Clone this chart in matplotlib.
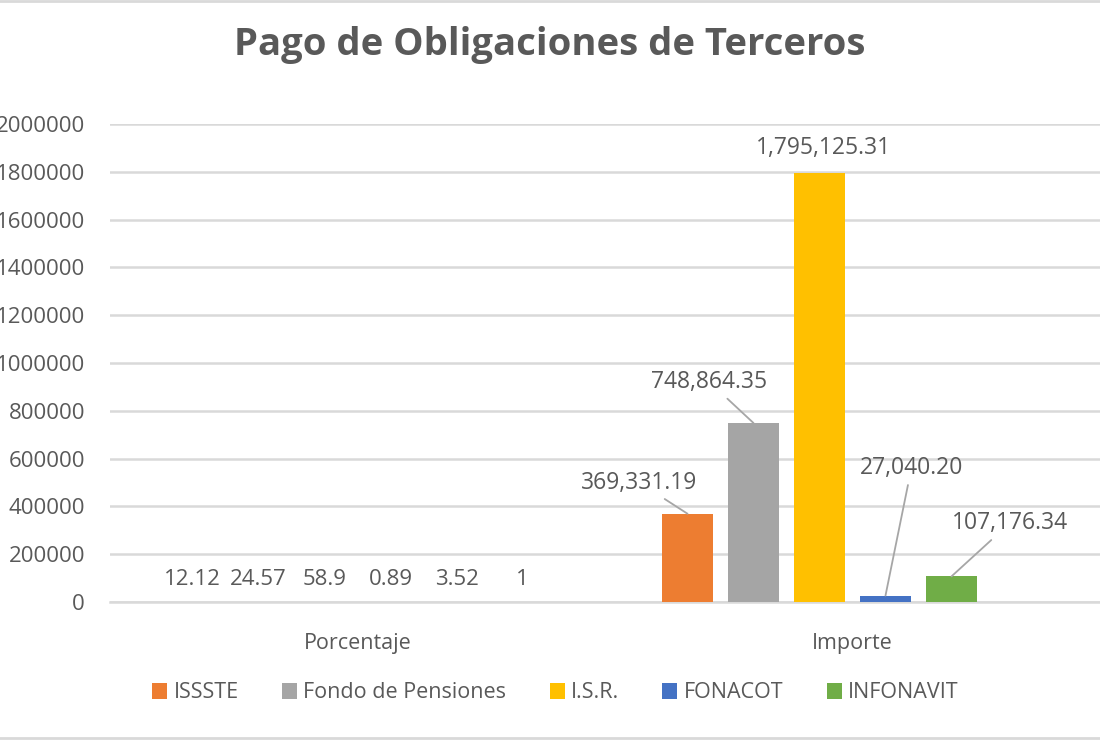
import matplotlib.pyplot as plt
import numpy as np

categorias = ['Porcentaje', 'Importe']
series = ['ISSSTE', 'Fondo de Pensiones', 'I.S.R.', 'FONACOT', 'INFONAVIT', 'Total']
colores = ['#ED7D31', '#A5A5A5', '#FFC000', '#4472C4', '#70AD47', '#264478']
porcentaje = [12.12, 24.57, 58.9, 0.89, 3.52, 1]
importe = [369331.19, 748864.35, 1795125.31, 27040.20, 107176.34, np.nan]
etiquetas_importe = ['369,331.19', '748,864.35', '1,795,125.31', '27,040.20', '107,176.34', '']
# desplazamiento de las etiquetas del importe (pixeles), con linea guia
desp_importe = [(-48, 31), (-44, 41), (4, 25), (26, 128), (58, 53), (0, 0)]
guia = [True, True, False, True, True, False]

plt.rcParams['font.family'] = ['Open Sans', 'DejaVu Sans']
gris = '#595959'

fig = plt.figure(figsize=(11, 7.4), dpi=100)
ax = fig.add_axes([0.1, 1 - 602 / 740, 0.9, (602 - 124) / 740])

x = np.arange(len(categorias))
ancho_slot = 0.8 / len(series)
for i, nombre in enumerate(series):
    pos = x - 0.4 + ancho_slot * (i + 0.5)
    vals = [porcentaje[i], importe[i]]
    ax.bar(pos, np.nan_to_num(vals), width=0.102, color=colores[i],
           label=nombre if i < 5 else '_nolegend_', zorder=3)
    # etiqueta de porcentaje
    ax.annotate(f'{porcentaje[i]:g}', (pos[0], porcentaje[i]), xytext=(0, 22),
                textcoords='offset pixels', ha='center', va='center',
                fontsize=16, color=gris)
    if etiquetas_importe[i]:
        dx, dy = desp_importe[i]
        ap = dict(arrowstyle='-', color='#A6A6A6', lw=1.3, shrinkA=2, shrinkB=0) if guia[i] else None
        ax.annotate(etiquetas_importe[i], (pos[1], importe[i]), xytext=(dx, dy),
                    textcoords='offset pixels', ha='center', va='center',
                    fontsize=16.5, color=gris, arrowprops=ap)

ax.set_xlim(-0.5, 1.5)
ax.set_ylim(0, 2000000)
ax.set_yticks(np.arange(0, 2000001, 200000))
ax.set_yticklabels([f'{v:d}' for v in range(0, 2000001, 200000)])
ax.set_xticks(x)
ax.set_xticklabels(categorias)
ax.tick_params(axis='both', length=0, labelcolor=gris)
ax.tick_params(axis='y', pad=18, labelsize=16)
ax.tick_params(axis='x', pad=22, labelsize=15.5)
ax.grid(axis='y', color='#D9D9D9', lw=1.8, zorder=0)
for s in ['top', 'right', 'left']:
    ax.spines[s].set_visible(False)
ax.spines['bottom'].set_color('#D9D9D9')
ax.spines['bottom'].set_linewidth(1.8)

fig.suptitle('Pago de Obligaciones de Terceros', x=0.5, y=1 - 45 / 740, va='center',
             fontsize=27.5, fontweight='bold', color=gris)

fig.legend(loc='center', bbox_to_anchor=(0.505, 1 - 693 / 740), ncol=5, frameon=False,
           fontsize=15.5, labelcolor=gris, handlelength=0.7, handleheight=0.7,
           handletextpad=0.3, columnspacing=2.0)

fig.add_artist(plt.Line2D([0, 1], [0.998, 0.998], color='#D9D9D9', lw=2))
fig.add_artist(plt.Line2D([0, 1], [0.003, 0.003], color='#D9D9D9', lw=2))

plt.savefig('out.png', dpi=100)
